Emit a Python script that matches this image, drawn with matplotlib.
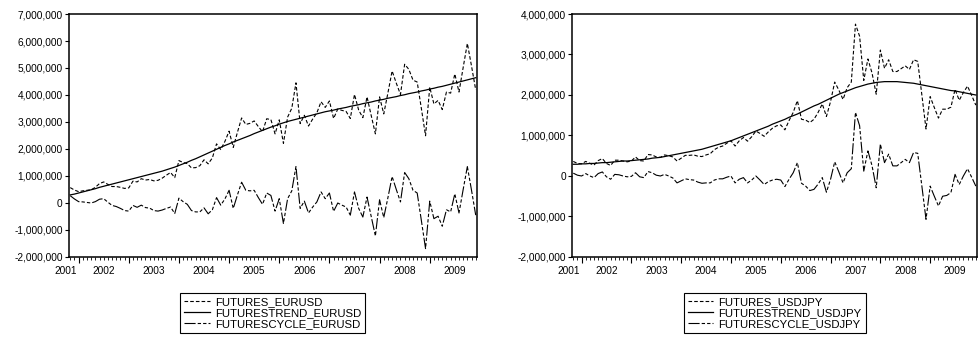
import numpy as np
import matplotlib
matplotlib.use('Agg')
import matplotlib.pyplot as plt
from matplotlib.ticker import FuncFormatter, FixedLocator

plt.rcParams['font.family'] = ['Liberation Sans', 'DejaVu Sans']
plt.rcParams['lines.scale_dashes'] = False

#--monthly data, 2001M11 .. 2009M12, values in millions
years = ['2001', '2002', '2003', '2004', '2005', '2006', '2007', '2008', '2009']

eur_futures = [.57,.48,.42,.45,.47,.49,.58,.72,.78,.69,
               .61,.61,.58,.54,.56,.81,.78,.90,.85,.87,
               .82,.84,.92,1.03,1.13,.94,1.57,1.50,1.46,1.30,
               1.31,1.38,1.60,1.45,1.67,2.19,1.98,2.28,2.66,2.06,
               2.62,3.15,2.91,2.95,3.04,2.83,2.64,3.12,3.09,2.56,
               3.08,2.21,3.18,3.51,4.45,2.94,3.25,2.85,3.11,3.34,
               3.75,3.54,3.78,3.13,3.48,3.43,3.39,3.13,4.02,3.44,
               3.16,3.93,3.24,2.56,3.93,3.30,4.08,4.89,4.44,4.02,
               5.14,4.95,4.55,4.48,3.50,2.49,4.29,3.67,3.80,3.46,
               4.11,4.07,4.78,4.11,5.02,5.91,5.07,4.19]
eur_trend = [.30,.33,.37,.41,.45,.49,.53,.58,.62,.66,
             .70,.74,.78,.82,.86,.90,.94,.98,1.02,1.06,
             1.10,1.14,1.18,1.23,1.28,1.33,1.39,1.45,1.51,1.58,
             1.64,1.71,1.78,1.85,1.92,1.99,2.06,2.13,2.19,2.26,
             2.32,2.38,2.44,2.50,2.57,2.63,2.69,2.75,2.81,2.86,
             2.92,2.97,3.02,3.06,3.10,3.14,3.18,3.22,3.26,3.30,
             3.34,3.38,3.41,3.44,3.48,3.51,3.54,3.58,3.61,3.64,
             3.68,3.71,3.74,3.78,3.81,3.84,3.88,3.91,3.94,3.98,
             4.01,4.05,4.08,4.11,4.15,4.18,4.22,4.25,4.29,4.32,
             4.36,4.40,4.44,4.48,4.52,4.56,4.60,4.64]
eur_cycle = [.27,.15,.05,.04,.02,.00,.05,.14,.16,.03,
             -.09,-.13,-.20,-.28,-.30,-.09,-.16,-.08,-.17,-.19,
             -.28,-.30,-.26,-.20,-.15,-.39,.18,.05,-.05,-.28,
             -.33,-.33,-.18,-.40,-.25,.20,-.08,.15,.47,-.20,
             .30,.77,.47,.45,.47,.20,-.05,.37,.28,-.30,
             .16,-.76,.16,.45,1.35,-.20,.07,-.37,-.15,.04,
             .41,.16,.37,-.31,.00,-.08,-.15,-.45,.41,-.20,
             -.52,.22,-.50,-1.22,.12,-.54,.20,.98,.50,.04,
             1.13,.90,.47,.37,-.65,-1.69,.07,-.58,-.49,-.86,
             -.25,-.33,.34,-.37,.50,1.35,.47,-.45]

jpy_futures = [.36,.31,.30,.36,.31,.27,.38,.43,.31,.26,
               .39,.39,.37,.35,.37,.47,.38,.37,.53,.52,
               .47,.46,.52,.50,.47,.37,.44,.51,.51,.52,
               .49,.48,.52,.55,.65,.71,.74,.81,.87,.74,
               .87,.95,.86,.97,1.11,1.05,.98,1.09,1.18,1.24,
               1.26,1.14,1.37,1.57,1.86,1.40,1.38,1.32,1.40,1.57,
               1.78,1.47,1.84,2.32,2.12,1.89,2.18,2.32,3.75,3.45,
               2.36,2.89,2.54,2.02,3.11,2.66,2.87,2.58,2.58,2.65,
               2.72,2.63,2.87,2.83,2.00,1.16,1.96,1.69,1.43,1.65,
               1.65,1.70,2.14,1.87,2.06,2.22,1.99,1.75]
jpy_trend = [.29,.29,.30,.30,.31,.31,.32,.33,.33,.34,
             .35,.36,.37,.37,.38,.39,.40,.41,.42,.44,
             .45,.46,.48,.50,.52,.54,.56,.58,.60,.62,
             .64,.66,.69,.72,.75,.78,.81,.84,.87,.91,
             .95,.99,1.03,1.07,1.11,1.15,1.19,1.23,1.28,1.32,
             1.36,1.40,1.45,1.49,1.53,1.58,1.63,1.68,1.73,1.77,
             1.82,1.87,1.92,1.97,2.02,2.06,2.10,2.14,2.18,2.21,
             2.24,2.27,2.29,2.31,2.32,2.33,2.33,2.33,2.33,2.32,
             2.31,2.30,2.29,2.27,2.25,2.23,2.21,2.19,2.17,2.15,
             2.13,2.11,2.10,2.08,2.06,2.04,2.02,2.00]
jpy_cycle = [.07,.02,.00,.06,.00,-.04,.06,.10,-.02,-.08,
             .04,.03,.00,-.02,-.01,.08,-.02,-.04,.11,.08,
             .02,.00,.04,.00,-.05,-.17,-.12,-.07,-.09,-.10,
             -.15,-.18,-.17,-.17,-.10,-.07,-.07,-.03,.00,-.17,
             -.08,-.04,-.17,-.10,.00,-.10,-.21,-.14,-.10,-.08,
             -.10,-.26,-.08,.08,.33,-.18,-.25,-.36,-.33,-.20,
             -.04,-.40,-.08,.35,.10,-.17,.08,.18,1.57,1.24,
             .12,.62,.25,-.29,.79,.33,.54,.25,.25,.33,
             .41,.33,.58,.56,-.25,-1.07,-.25,-.50,-.74,-.50,
             -.48,-.41,.04,-.21,.00,.18,-.03,-.25]


def panel(fig, rect, fut, trend, cyc, names, ylim):
    ax = fig.add_axes(rect)
    t = np.arange(len(fut))
    ax.plot(t, np.array(fut)*1e6, color='k', lw=0.8, dashes=(2.6, 1.5), label=names[0])
    ax.plot(t, np.array(trend)*1e6, color='k', lw=0.9, label=names[1])
    ax.plot(t, np.array(cyc)*1e6, color='k', lw=0.8,
            dashes=(8, 1.5, 2.4, 1.5, 2.4, 1.5), label=names[2])

    ax.set_xlim(-0.3, len(fut)-0.7)
    ax.set_ylim(*ylim)
    ax.yaxis.set_major_locator(FixedLocator(np.arange(ylim[0], ylim[1]+1, 1e6)))
    ax.yaxis.set_major_formatter(FuncFormatter(lambda v, p: '{:,.0f}'.format(v)))

    #--year ticks at january, monthly minor ticks
    ax.xaxis.set_major_locator(FixedLocator(np.arange(2, 99, 12)))
    ax.xaxis.set_minor_locator(FixedLocator(t))
    ax.set_xticklabels([])
    for k, yr in enumerate(years):
        xp = 2 + 12*(k-1) + 6 if k > 0 else -1.2
        ax.text(xp, -0.035, yr, ha='center', va='top', fontsize=7.3,
                transform=ax.get_xaxis_transform(), clip_on=False)

    ax.tick_params(axis='y', direction='out', length=3, width=0.8, pad=1.5, labelsize=7.3)
    ax.tick_params(axis='x', which='major', direction='out', length=4, width=0.8)
    ax.tick_params(axis='x', which='minor', direction='out', length=2, width=0.6)
    for s in ax.spines.values():
        s.set_linewidth(1.1)

    cx = rect[0] + rect[2]/2
    leg = ax.legend(loc='upper center', bbox_to_anchor=(cx, 0.136), bbox_transform=fig.transFigure,
                    fancybox=False, edgecolor='k', framealpha=1, fontsize=8.2,
                    handlelength=2.2, handletextpad=0.5, borderpad=0.35,
                    labelspacing=0.08, borderaxespad=0)
    leg.get_frame().set_linewidth(0.8)
    return ax


fig = plt.figure(figsize=(9.8, 3.39), dpi=100)
panel(fig, [0.0704, 0.2419, 0.4163, 0.7168], eur_futures, eur_trend, eur_cycle,
      ['FUTURES_EURUSD', 'FUTURESTREND_EURUSD', 'FUTURESCYCLE_EURUSD'], (-2e6, 7e6))
panel(fig, [0.5837, 0.2419, 0.4133, 0.7168], jpy_futures, jpy_trend, jpy_cycle,
      ['FUTURES_USDJPY', 'FUTURESTREND_USDJPY', 'FUTURESCYCLE_USDJPY'], (-2e6, 4e6))

fig.savefig('out.png', dpi=100)
